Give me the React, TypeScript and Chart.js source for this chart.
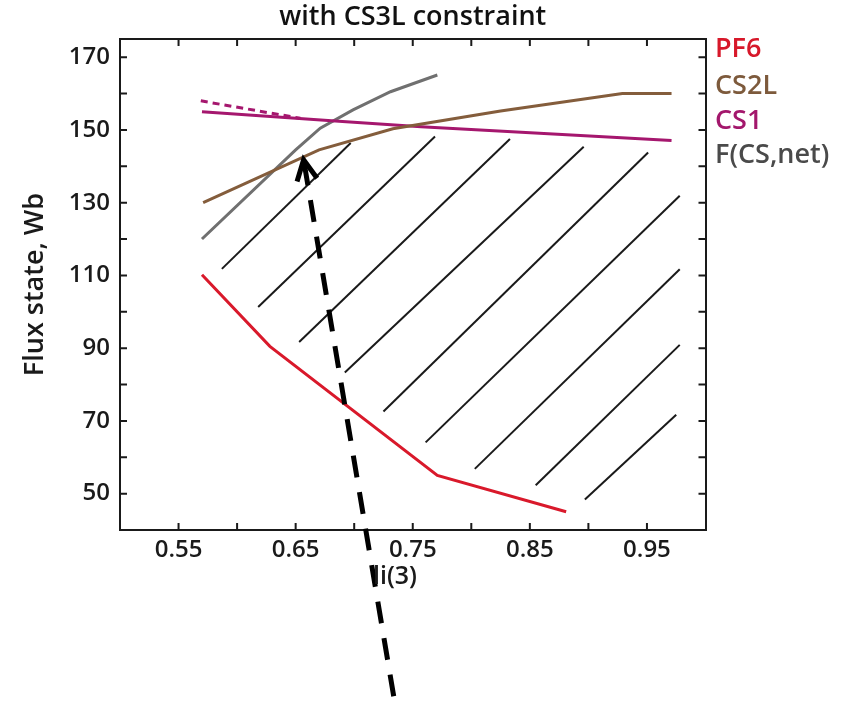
import React, { useEffect, useRef } from "react";
import { Chart, registerables } from "chart.js";

Chart.register(...registerables);

// ---- data ----
const pf6X = [0.57, 0.628, 0.771, 0.881];
const pf6Y = [110.2, 90.5, 55.0, 45.0];

const cs2lX = [0.571, 0.67, 0.733, 0.825, 0.929, 0.971];
const cs2lY = [130.0, 144.5, 150.3, 155.2, 160.0, 160.0];

const cs1X = [0.57, 0.69, 0.757, 0.971];
const cs1Y = [155.0, 152.3, 150.9, 147.1];

const cs1DashX = [0.569, 0.654];
const cs1DashY = [158.0, 153.2];

const fnetX = [0.57, 0.65, 0.671, 0.699, 0.731, 0.771];
const fnetY = [120.0, 144.5, 150.5, 155.5, 160.5, 165.1];

// hatch segments (start / end)
const hatchX0 = [0.587, 0.618, 0.653, 0.692, 0.725, 0.761, 0.803, 0.855, 0.897];
const hatchY0 = [111.8, 101.3, 91.7, 83.3, 72.6, 64.1, 56.8, 52.3, 48.4];
const hatchX1 = [0.697, 0.769, 0.833, 0.896, 0.951, 0.978, 0.978, 0.978, 0.975];
const hatchY1 = [146.4, 148.2, 147.5, 145.4, 143.8, 131.9, 111.7, 90.9, 71.7];

// dashed arrow (tip first, then tail)
const arrowX = [0.6568, 0.7352];
const arrowY = [141.8, -8.5];
const arrowHeadX = [0.6512, 0.6568, 0.6683];
const arrowHeadY = [135.8, 141.8, 136.7];

const xTickValues = [0.5, 0.55, 0.6, 0.65, 0.7, 0.75, 0.8, 0.85, 0.9, 0.95, 1.0];
const xTickLabels = ["0.55", "0.65", "0.75", "0.85", "0.95"];
const yTickValues = [40, 50, 60, 70, 80, 90, 100, 110, 120, 130, 140, 150, 160, 170];
const yTickLabels = ["50", "70", "90", "110", "130", "150", "170"];

const legendNames = ["PF6", "CS2L", "CS1", "F(CS,net)"];
const legendColors = ["#d7182a", "#7d5a3c", "#a3176c", "#4a4a4a"];

const FONT = '"Open Sans", "Noto Sans", sans-serif';

const pts = (xs: number[], ys: number[]) => xs.map((x, i) => ({ x, y: ys[i] }));

export default function App() {
  const ref = useRef<HTMLCanvasElement | null>(null);

  useEffect(() => {
    if (!ref.current) return;

    const lineBase = { pointRadius: 0, pointHoverRadius: 0, fill: false, tension: 0 };

    const datasets: any[] = [
      {
        ...lineBase,
        label: "arrowHead",
        data: pts(arrowHeadX, arrowHeadY),
        borderColor: "#000",
        borderWidth: 5,
        borderJoinStyle: "miter",
        clip: false,
      },
      {
        ...lineBase,
        label: "arrow",
        data: pts(arrowX, arrowY),
        borderColor: "#000",
        borderWidth: 5,
        borderDash: [22, 15],
        borderDashOffset: -4,
        clip: false,
      },
      { ...lineBase, label: "PF6", data: pts(pf6X, pf6Y), borderColor: "#d9192b", borderWidth: 3 },
      { ...lineBase, label: "CS2L", data: pts(cs2lX, cs2lY), borderColor: "#845d3c", borderWidth: 3 },
      { ...lineBase, label: "CS1", data: pts(cs1X, cs1Y), borderColor: "#a5176e", borderWidth: 3 },
      {
        ...lineBase,
        label: "CS1dash",
        data: pts(cs1DashX, cs1DashY),
        borderColor: "#a5176e",
        borderWidth: 3,
        borderDash: [7, 5],
      },
      { ...lineBase, label: "F(CS,net)", data: pts(fnetX, fnetY), borderColor: "#707070", borderWidth: 3 },
    ];
    hatchX0.forEach((_, i) => {
      datasets.push({
        ...lineBase,
        label: "hatch" + i,
        data: [
          { x: hatchX0[i], y: hatchY0[i] },
          { x: hatchX1[i], y: hatchY1[i] },
        ],
        borderColor: "#1a1a1a",
        borderWidth: 2,
      });
    });

    const decor = {
      id: "decor",
      beforeDatasetsDraw(chart: any) {
        const { ctx, chartArea } = chart;
        const { left, right, top, bottom } = chartArea;
        const sx = chart.scales.x;
        const sy = chart.scales.y;
        ctx.save();
        ctx.strokeStyle = "#1a1a1a";
        ctx.lineWidth = 2;
        const len = 7;
        sx.ticks.forEach((t: any) => {
          const v = t.value;
          if (v <= sx.min + 1e-6 || v >= sx.max - 1e-6) return;
          const px = sx.getPixelForValue(v);
          ctx.beginPath();
          ctx.moveTo(px, bottom);
          ctx.lineTo(px, bottom - len);
          ctx.moveTo(px, top);
          ctx.lineTo(px, top + len);
          ctx.stroke();
        });
        sy.ticks.forEach((t: any) => {
          const v = t.value;
          if (v <= sy.min + 1e-6 || v >= sy.max - 1e-6) return;
          const py = sy.getPixelForValue(v);
          ctx.beginPath();
          ctx.moveTo(left, py);
          ctx.lineTo(left + len, py);
          ctx.moveTo(right, py);
          ctx.lineTo(right - len, py);
          ctx.stroke();
        });
        ctx.restore();
      },
      afterDraw(chart: any) {
        const { ctx } = chart;
        ctx.save();
        ctx.textBaseline = "middle";
        ctx.textAlign = "left";
        ctx.font = `600 27px ${FONT}`;
        const ys = [49, 86, 121, 155];
        legendNames.forEach((n, i) => {
          ctx.fillStyle = legendColors[i];
          ctx.fillText(n, 715, ys[i]);
        });
        ctx.font = `600 25px ${FONT}`;
        ctx.fillStyle = "#1a1a1a";
        ctx.textAlign = "center";
        ctx.fillText("li(3)", 395, 577);
        ctx.restore();
      },
    };

    const chart = new Chart(ref.current, {
      type: "line",
      data: { datasets },
      options: {
        animation: false,
        responsive: true,
        maintainAspectRatio: false,
        events: [],
        layout: { padding: { left: 0, right: 146.5, top: 0, bottom: 0 } },
        plugins: {
          legend: { display: false },
          tooltip: { enabled: false },
          title: {
            display: true,
            text: "with CS3L constraint",
            fullSize: false,
            color: "#111",
            font: { family: FONT, size: 27, weight: "600" as any },
            padding: { top: 0.8, bottom: 5.8 },
          },
        },
        scales: {
          x: {
            type: "linear",
            position: "bottom",
            min: 0.5,
            max: 1.0,
            afterFit: (s: any) => {
              s.height = 172;
            },
            afterBuildTicks: (s: any) => {
              s.ticks = xTickValues.map((v) => ({ value: v }));
            },
            ticks: {
              autoSkip: false,
              maxRotation: 0,
              padding: 6,
              color: "#1a1a1a",
              font: { family: FONT, size: 24, weight: "600" as any },
              callback: (v: any) => {
                const s = Number(v).toFixed(2);
                return xTickLabels.includes(s) ? s : "";
              },
            },
            grid: { display: false, drawTicks: false },
            border: { display: true, color: "#1a1a1a", width: 2 },
          },
          x2: {
            type: "linear",
            position: "top",
            min: 0.5,
            max: 1.0,
            afterFit: (s: any) => {
              s.height = 0;
            },
            ticks: { display: false },
            grid: { display: false, drawTicks: false },
            border: { display: true, color: "#1a1a1a", width: 2 },
          },
          y: {
            type: "linear",
            position: "left",
            min: 40,
            max: 175,
            afterFit: (s: any) => {
              s.width = 120;
            },
            afterBuildTicks: (s: any) => {
              s.ticks = yTickValues.map((v) => ({ value: v }));
            },
            ticks: {
              autoSkip: false,
              padding: 10,
              color: "#1a1a1a",
              font: { family: FONT, size: 24, weight: "600" as any },
              callback: (v: any) => {
                const s = String(Math.round(Number(v)));
                return yTickLabels.includes(s) ? s : "";
              },
            },
            title: {
              display: true,
              text: "Flux state, Wb",
              color: "#1a1a1a",
              font: { family: FONT, size: 27, weight: "600" as any },
              padding: { top: 18.8, bottom: 0 },
            },
            grid: { display: false, drawTicks: false },
            border: { display: true, color: "#1a1a1a", width: 2 },
          },
          y2: {
            type: "linear",
            position: "right",
            min: 40,
            max: 175,
            afterFit: (s: any) => {
              s.width = 0;
            },
            ticks: { display: false },
            grid: { display: false, drawTicks: false },
            border: { display: true, color: "#1a1a1a", width: 2 },
          },
        },
      },
      plugins: [decor],
    });

    return () => chart.destroy();
  }, []);

  return (
    <div style={{ position: "fixed", left: 0, top: 0, width: 852, height: 702, background: "#fff" }}>
      <canvas ref={ref} />
    </div>
  );
}
